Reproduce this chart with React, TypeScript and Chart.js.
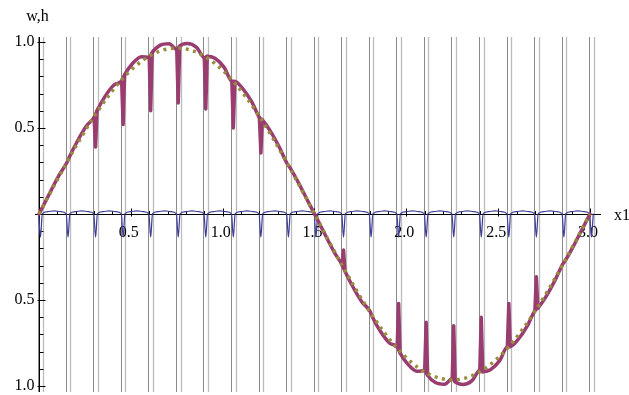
import React, { useEffect, useRef } from "react";
import { Chart, registerables } from "chart.js";

Chart.register(...registerables);

// ---- data ----
// vertical reference lines (pairs straddling each notch of h)
const gridLinesLeft = [-0.0045, 0.1455, 0.2955, 0.4455, 0.5955, 0.7455, 0.8955, 1.0455, 1.1955, 1.3455, 1.4955, 1.6455, 1.7955, 1.9455, 2.0955, 2.2455, 2.3955, 2.5455, 2.6955, 2.8455, 2.9955];
const gridLinesRight = [0.0205, 0.1705, 0.3205, 0.4705, 0.6205, 0.7705, 0.9205, 1.0705, 1.2205, 1.3705, 1.5205, 1.6705, 1.8205, 1.9705, 2.1205, 2.2705, 2.4205, 2.5705, 2.7205, 2.8705, 3.0205];

// h (blue): small arches with narrow notches
const hSeries: [number, number][] = [
  [-0.002, 0.002], [0.008, -0.135], [0.018, 0.002], [0.048, 0.014], [0.083, 0.018], [0.118, 0.014],
  [0.148, 0.002], [0.158, -0.135], [0.168, 0.002], [0.198, 0.014], [0.233, 0.018], [0.268, 0.014],
  [0.298, 0.002], [0.308, -0.135], [0.318, 0.002], [0.348, 0.014], [0.383, 0.018], [0.418, 0.014],
  [0.448, 0.002], [0.458, -0.135], [0.468, 0.002], [0.498, 0.014], [0.533, 0.018], [0.568, 0.014],
  [0.598, 0.002], [0.608, -0.135], [0.618, 0.002], [0.648, 0.014], [0.683, 0.018], [0.718, 0.014],
  [0.748, 0.002], [0.758, -0.135], [0.768, 0.002], [0.798, 0.014], [0.833, 0.018], [0.868, 0.014],
  [0.898, 0.002], [0.908, -0.135], [0.918, 0.002], [0.948, 0.014], [0.983, 0.018], [1.018, 0.014],
  [1.048, 0.002], [1.058, -0.135], [1.068, 0.002], [1.098, 0.014], [1.133, 0.018], [1.168, 0.014],
  [1.198, 0.002], [1.208, -0.135], [1.218, 0.002], [1.248, 0.014], [1.283, 0.018], [1.318, 0.014],
  [1.348, 0.002], [1.358, -0.135], [1.368, 0.002], [1.398, 0.014], [1.433, 0.018], [1.468, 0.014],
  [1.498, 0.002], [1.508, -0.135], [1.518, 0.002], [1.548, 0.014], [1.583, 0.018], [1.618, 0.014],
  [1.648, 0.002], [1.658, -0.135], [1.668, 0.002], [1.698, 0.014], [1.733, 0.018], [1.768, 0.014],
  [1.798, 0.002], [1.808, -0.135], [1.818, 0.002], [1.848, 0.014], [1.883, 0.018], [1.918, 0.014],
  [1.948, 0.002], [1.958, -0.135], [1.968, 0.002], [1.998, 0.014], [2.033, 0.018], [2.068, 0.014],
  [2.098, 0.002], [2.108, -0.135], [2.118, 0.002], [2.148, 0.014], [2.183, 0.018], [2.218, 0.014],
  [2.248, 0.002], [2.258, -0.135], [2.268, 0.002], [2.298, 0.014], [2.333, 0.018], [2.368, 0.014],
  [2.398, 0.002], [2.408, -0.135], [2.418, 0.002], [2.448, 0.014], [2.483, 0.018], [2.518, 0.014],
  [2.548, 0.002], [2.558, -0.135], [2.568, 0.002], [2.598, 0.014], [2.633, 0.018], [2.668, 0.014],
  [2.698, 0.002], [2.708, -0.135], [2.718, 0.002], [2.748, 0.014], [2.783, 0.018], [2.818, 0.014],
  [2.848, 0.002], [2.858, -0.135], [2.868, 0.002], [2.898, 0.014], [2.933, 0.018], [2.968, 0.014],
  [2.998, 0.002], [3.008, -0.135], [3.018, 0.002],
];

// w (magenta): sine-like arches between the notches
const wSeries: [number, number][] = [
  [0, 0], [0.014, 0.0286], [0.058, 0.121], [0.108, 0.2229], [0.152, 0.299],
  [0.164, 0.3283], [0.208, 0.4215], [0.258, 0.5113], [0.302, 0.5648],
  [0.314, 0.5958], [0.358, 0.6807], [0.408, 0.7498], [0.452, 0.7753],
  [0.464, 0.805], [0.508, 0.8733], [0.558, 0.9147], [0.602, 0.9099],
  [0.614, 0.9355], [0.658, 0.9803], [0.708, 0.9902], [0.752, 0.9554],
  [0.764, 0.9743], [0.808, 0.9914], [0.858, 0.9687], [0.902, 0.9074],
  [0.914, 0.9178], [0.958, 0.9056], [1.008, 0.8525], [1.052, 0.7705],
  [1.064, 0.7714], [1.108, 0.7309], [1.158, 0.6527], [1.202, 0.5583],
  [1.214, 0.5495], [1.258, 0.4848], [1.308, 0.3891], [1.352, 0.2914],
  [1.364, 0.2739], [1.408, 0.1913], [1.458, 0.0873], [1.502, -0.004],
  [1.514, -0.0286], [1.558, -0.121], [1.608, -0.2229], [1.652, -0.299],
  [1.664, -0.3283], [1.708, -0.4215], [1.758, -0.5113], [1.802, -0.5648],
  [1.814, -0.5958], [1.858, -0.6807], [1.908, -0.7498], [1.952, -0.7753],
  [1.964, -0.805], [2.008, -0.8733], [2.058, -0.9147], [2.102, -0.9099],
  [2.114, -0.9355], [2.158, -0.9803], [2.208, -0.9902], [2.252, -0.9554],
  [2.264, -0.9743], [2.308, -0.9914], [2.358, -0.9687], [2.402, -0.9074],
  [2.414, -0.9178], [2.458, -0.9056], [2.508, -0.8525], [2.552, -0.7705],
  [2.564, -0.7714], [2.608, -0.7309], [2.658, -0.6527], [2.702, -0.5583],
  [2.714, -0.5495], [2.758, -0.4848], [2.808, -0.3891], [2.852, -0.2914],
  [2.864, -0.2739], [2.908, -0.1913], [2.958, -0.0873], [3.0, 0],
];

// w spikes toward zero at the notches (edge, tip, edge)
const wSpikes: [number, number][][] = [
  [[0.3, 0.5606], [0.308, 0.39], [0.316, 0.6], [0.322, 0.6125]],
  [[0.45, 0.7725], [0.458, 0.52], [0.466, 0.808], [0.472, 0.818]],
  [[0.6, 0.909], [0.608, 0.6], [0.616, 0.938], [0.622, 0.948]],
  [[0.75, 0.955], [0.758, 0.645], [0.766, 0.975], [0.772, 0.98]],
  [[0.9, 0.908], [0.908, 0.61], [0.916, 0.917]],
  [[1.05, 0.773], [1.058, 0.5], [1.066, 0.77]],
  [[1.2, 0.561], [1.208, 0.355], [1.216, 0.547]],
  [[1.65, -0.296], [1.658, -0.21], [1.666, -0.331]],
  [[1.95, -0.7745], [1.958, -0.52], [1.966, -0.808]],
  [[2.1, -0.909], [2.108, -0.63], [2.116, -0.938]],
  [[2.25, -0.955], [2.258, -0.65], [2.266, -0.975]],
  [[2.4, -0.908], [2.408, -0.6], [2.416, -0.917]],
  [[2.55, -0.773], [2.558, -0.52], [2.566, -0.77]],
  [[2.7, -0.561], [2.708, -0.365], [2.716, -0.547]],
];

// smooth reference (olive dotted)
const smoothX = [0, 0.075, 0.15, 0.225, 0.3, 0.375, 0.45, 0.525, 0.6, 0.675, 0.75, 0.825, 0.9, 0.975, 1.05, 1.125, 1.2, 1.275, 1.35, 1.425, 1.5, 1.575, 1.65, 1.725, 1.8, 1.875, 1.95, 2.025, 2.1, 2.175, 2.25, 2.325, 2.4, 2.475, 2.55, 2.625, 2.7, 2.775, 2.85, 2.925, 3.0];
const smoothY = [0, 0.151, 0.298, 0.438, 0.567, 0.682, 0.781, 0.86, 0.918, 0.953, 0.965, 0.953, 0.918, 0.86, 0.781, 0.682, 0.567, 0.438, 0.298, 0.151, 0, -0.151, -0.298, -0.438, -0.567, -0.682, -0.781, -0.86, -0.918, -0.953, -0.965, -0.953, -0.918, -0.86, -0.781, -0.682, -0.567, -0.438, -0.298, -0.151, 0];

// axes ticks and labels
const xMajorTicks = [0.5, 1.0, 1.5, 2.0, 2.5, 3.0];
const xTickLabels = ["0.5", "1.0", "1.5", "2.0", "2.5", "3.0"];
const xMinorTicks = [0.1, 0.2, 0.3, 0.4, 0.6, 0.7, 0.8, 0.9, 1.1, 1.2, 1.3, 1.4, 1.6, 1.7, 1.8, 1.9, 2.1, 2.2, 2.3, 2.4, 2.6, 2.7, 2.8, 2.9];
const yMajorTicks = [1.0, 0.5, -0.5, -1.0];
const yTickLabels = ["1.0", "0.5", "0.5", "1.0"];
const yMinorTicks = [0.9, 0.8, 0.7, 0.6, 0.4, 0.3, 0.2, 0.1, -0.1, -0.2, -0.3, -0.4, -0.6, -0.7, -0.8, -0.9];
const xAxisLabel = "x1";
const yAxisLabel = "w,h";

const FONT = '16px "Liberation Serif", "Times New Roman", serif';
const W_COLOR = "#993d71";

const axesPlugin = {
  id: "mmaAxes",
  beforeDraw(chart: any) {
    const { ctx, chartArea, scales } = chart;
    const xs = scales.x;
    const ys = scales.y;
    ctx.save();
    ctx.lineWidth = 1;
    ctx.strokeStyle = "#8a8a8a";
    for (const v of gridLinesLeft) {
      const px = Math.round(xs.getPixelForValue(v)) + 0.5;
      ctx.beginPath();
      ctx.moveTo(px, chartArea.top);
      ctx.lineTo(px, chartArea.bottom);
      ctx.stroke();
    }
    ctx.strokeStyle = "#bcbcbc";
    ctx.lineWidth = 1.3;
    for (const v of gridLinesRight) {
      const px = Math.round(xs.getPixelForValue(v)) + 0.5;
      ctx.beginPath();
      ctx.moveTo(px, chartArea.top);
      ctx.lineTo(px, chartArea.bottom);
      ctx.stroke();
    }
    const x0 = Math.round(xs.getPixelForValue(0)) + 0.5;
    const y0 = Math.round(ys.getPixelForValue(0)) + 0.5;
    ctx.strokeStyle = "#000";
    ctx.lineWidth = 1;
    ctx.beginPath();
    ctx.moveTo(chartArea.left, y0);
    ctx.lineTo(chartArea.right, y0);
    ctx.moveTo(x0, chartArea.top);
    ctx.lineTo(x0, chartArea.bottom);
    ctx.stroke();
    ctx.beginPath();
    for (const v of xMajorTicks) {
      const px = Math.round(xs.getPixelForValue(v)) + 0.5;
      ctx.moveTo(px, y0 + 2);
      ctx.lineTo(px, y0 - 6);
    }
    for (const v of xMinorTicks) {
      const px = Math.round(xs.getPixelForValue(v)) + 0.5;
      ctx.moveTo(px, y0);
      ctx.lineTo(px, y0 - 3.5);
    }
    for (const v of yMajorTicks) {
      const py = Math.round(ys.getPixelForValue(v)) + 0.5;
      ctx.moveTo(x0 - 2, py);
      ctx.lineTo(x0 + 6, py);
    }
    for (const v of yMinorTicks) {
      const py = Math.round(ys.getPixelForValue(v)) + 0.5;
      ctx.moveTo(x0, py);
      ctx.lineTo(x0 + 4, py);
    }
    ctx.stroke();
    ctx.fillStyle = "#000";
    ctx.font = FONT;
    ctx.textBaseline = "middle";
    ctx.textAlign = "center";
    xMajorTicks.forEach((v, i) => {
      ctx.fillText(xTickLabels[i], xs.getPixelForValue(v) - 2, y0 + 18);
    });
    ctx.textAlign = "right";
    yMajorTicks.forEach((v, i) => {
      ctx.fillText(yTickLabels[i], x0 - 5, ys.getPixelForValue(v));
    });
    ctx.textAlign = "left";
    ctx.fillText(xAxisLabel, chartArea.right + 13, y0 + 1);
    ctx.textAlign = "center";
    ctx.fillText(yAxisLabel, x0 - 2, chartArea.top - 20);
    ctx.restore();
  },
};

export default function App() {
  const canvasRef = useRef<HTMLCanvasElement | null>(null);

  useEffect(() => {
    const canvas = canvasRef.current;
    if (!canvas) return;
    const spikeData: { x: number; y: number | null }[] = [];
    wSpikes.forEach((tri) => {
      tri.forEach(([x, y]) => spikeData.push({ x, y }));
      spikeData.push({ x: tri[tri.length - 1][0] + 0.0005, y: null });
    });
    const chart = new Chart(canvas, {
      type: "line",
      data: {
        datasets: [
          {
            label: "smooth",
            data: smoothX.map((x, i) => ({ x, y: smoothY[i] })),
            borderColor: "#998c3d",
            borderWidth: 3.5,
            borderDash: [3, 4.5],
            borderCapStyle: "butt",
            pointRadius: 0,
            cubicInterpolationMode: "monotone",
            fill: false,
            order: 0,
          },
          {
            label: "w",
            data: wSeries.map(([x, y]) => ({ x, y })),
            borderColor: W_COLOR,
            borderWidth: 3.5,
            borderJoinStyle: "round",
            borderCapStyle: "round",
            pointRadius: 0,
            cubicInterpolationMode: "monotone",
            fill: false,
            order: 1,
          },
          {
            label: "w spikes",
            data: spikeData,
            borderColor: W_COLOR,
            borderWidth: 3.5,
            borderJoinStyle: "round",
            borderCapStyle: "round",
            pointRadius: 0,
            tension: 0,
            spanGaps: false,
            fill: false,
            order: 1,
          },
          {
            label: "h",
            data: hSeries.map(([x, y]) => ({ x, y })),
            borderColor: "#3d3d99",
            borderWidth: 1.2,
            pointRadius: 0,
            cubicInterpolationMode: "monotone",
            fill: false,
            order: 2,
          },
        ],
      },
      options: {
        responsive: false,
        animation: false,
        devicePixelRatio: 1,
        layout: { padding: { left: 35, right: 28, top: 37, bottom: 3 } },
        plugins: { legend: { display: false }, tooltip: { enabled: false } },
        events: [],
        scales: {
          x: { type: "linear", min: -0.0218, max: 3.06, display: false },
          y: { type: "linear", min: -1.035, max: 1.029, display: false },
        },
      } as any,
      plugins: [axesPlugin],
    });
    return () => chart.destroy();
  }, []);

  return (
    <div style={{ position: "fixed", left: 0, top: 0, width: 629, height: 395, background: "#fff" }}>
      <canvas ref={canvasRef} width={629} height={395} style={{ display: "block" }} />
    </div>
  );
}
